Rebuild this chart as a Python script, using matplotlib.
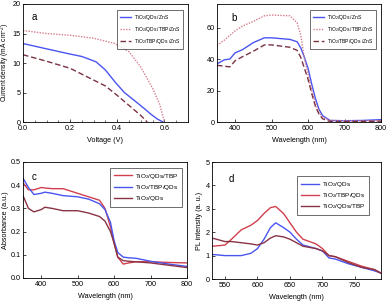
import matplotlib
matplotlib.use("Agg")
import matplotlib.pyplot as plt
from matplotlib.ticker import AutoMinorLocator
import numpy as np

plt.rcParams['font.family'] = ['Liberation Sans', 'DejaVu Sans']
plt.rcParams['mathtext.fontset'] = 'custom'
plt.rcParams['mathtext.rm'] = 'Liberation Sans'

# Panel a: J-V
va_blue = [0.0, 0.1, 0.19, 0.25, 0.31, 0.35, 0.39, 0.43, 0.48, 0.52, 0.54, 0.57, 0.594]
ja_blue = [13.3, 12.4, 11.6, 11.1, 10.2, 8.8, 6.8, 5.0, 3.4, 2.1, 1.4, 0.5, 0.0]
va_pink = [0.0, 0.1, 0.2, 0.3, 0.39, 0.45, 0.5, 0.55, 0.58, 0.60]
ja_pink = [15.5, 15.0, 14.7, 14.2, 13.3, 11.9, 9.3, 5.7, 3.0, 0.0]
va_brown = [0.0, 0.1, 0.2, 0.3, 0.35, 0.4, 0.45, 0.5, 0.527]
ja_brown = [11.4, 10.3, 9.1, 7.1, 6.1, 4.5, 2.8, 1.1, 0.0]
labels_ab = ['TiO$_2$/QDs /ZnS', 'TiO$_2$/QDs /TBP/ZnS', 'TiO$_2$/TBP/QDs /ZnS']

# Panel b: IPCE
wl_b = [350, 370, 385, 400, 420, 450, 480, 500, 550, 570, 580, 590, 600, 610, 620, 630, 640, 660, 700, 750, 800]
ipce_blue = [37, 39.5, 40, 44, 46, 50.5, 53.5, 53.5, 52.5, 51, 47, 41, 34, 24, 15, 8, 4, 1, 0.8, 1.0, 1.5]
ipce_pink = [48.7, 52, 55, 58, 61, 64, 67.5, 68, 67.5, 63, 55, 40, 30, 20, 12, 6, 3, 1, 0.8, 0.8, 0.8]
ipce_brown = [36, 35.5, 35, 39, 41.5, 45, 49, 49, 47.5, 45.5, 41, 34, 27, 18, 10, 5, 2, 0.3, 0.3, 0.4, 0.5]

# Panel c: absorbance
wl_c = [350, 365, 380, 400, 410, 430, 460, 500, 530, 560, 575, 590, 600, 610, 625, 640, 660, 700, 750, 800]
abs_red = [0.41, 0.38, 0.38, 0.39, 0.388, 0.385, 0.385, 0.365, 0.35, 0.335, 0.30, 0.22, 0.15, 0.09, 0.06, 0.065, 0.07, 0.07, 0.067, 0.065]
abs_blue = [0.43, 0.39, 0.36, 0.365, 0.37, 0.365, 0.355, 0.35, 0.34, 0.32, 0.295, 0.24, 0.16, 0.11, 0.09, 0.087, 0.085, 0.072, 0.06, 0.05]
abs_dark = [0.355, 0.30, 0.285, 0.295, 0.305, 0.30, 0.29, 0.29, 0.28, 0.265, 0.245, 0.20, 0.15, 0.09, 0.075, 0.072, 0.07, 0.065, 0.055, 0.045]
labels_c = ['TiO$_2$/QDs/TBP', 'TiO$_2$/TBP/QDs', 'TiO$_2$/QDs']

# Panel d: PL
wl_d = [530, 550, 560, 575, 590, 600, 610, 620, 628, 640, 650, 660, 670, 690, 700, 710, 720, 740, 760, 780, 790]
pl_blue = [1.05, 1.0, 1.0, 1.0, 1.1, 1.3, 1.7, 2.2, 2.4, 2.2, 2.0, 1.7, 1.45, 1.3, 1.2, 0.9, 0.85, 0.65, 0.5, 0.35, 0.25]
pl_red = [1.4, 1.45, 1.7, 2.1, 2.3, 2.5, 2.8, 3.05, 3.1, 2.8, 2.4, 2.0, 1.7, 1.5, 1.3, 1.0, 0.95, 0.75, 0.55, 0.4, 0.25]
pl_brown = [1.75, 1.6, 1.6, 1.55, 1.5, 1.45, 1.55, 1.75, 1.85, 1.8, 1.7, 1.55, 1.4, 1.3, 1.2, 1.0, 0.95, 0.7, 0.5, 0.4, 0.25]
labels_d = ['TiO$_2$/QDs', 'TiO$_2$/TBP/QDs', 'TiO$_2$/QDs/TBP']

c_blue = '#4a55f0'
c_pink = '#d67e8e'
c_brown = '#7a3343'
c_red = '#d2404e'
c_dark = '#8a3345'

W, H = 387, 302
fig = plt.figure(figsize=(W / 100, H / 100), dpi=100)

def ax_at(x0, y0, x1, y1):
    return fig.add_axes([x0 / W, 1 - y1 / H, (x1 - x0) / W, (y1 - y0) / H])

fs = 5.2

def style(ax):
    ax.tick_params(labelsize=fs, length=2, width=0.5, pad=1.5, direction='in')
    ax.tick_params(axis='x', pad=2.5)
    ax.tick_params(which='minor', length=1.2, width=0.4, direction='in')
    for s in ax.spines.values():
        s.set_linewidth(0.6)

def leg(ax, size, hl, anchor, spacing):
    lg = ax.legend(loc='upper right', fontsize=size, frameon=True, fancybox=False, edgecolor='black',
                   handlelength=hl, borderpad=0.6, labelspacing=spacing, handletextpad=0.5,
                   bbox_to_anchor=anchor, borderaxespad=0)
    lg.get_frame().set_linewidth(0.5)

# a
axa = ax_at(23, 4, 188, 122)
axa.plot(va_blue, ja_blue, color=c_blue, lw=1.0, label=labels_ab[0])
axa.plot(va_pink, ja_pink, color=c_pink, lw=1.0, ls=(0, (1, 1)), label=labels_ab[1])
axa.plot(va_brown, ja_brown, color=c_brown, lw=1.0, ls=(0, (4, 2)), label=labels_ab[2])
axa.set_xlim(0, 0.7)
axa.set_ylim(0, 20)
axa.set_xticks([0.0, 0.2, 0.4, 0.6])
axa.set_yticks([0, 5, 10, 15, 20])
axa.xaxis.set_minor_locator(AutoMinorLocator(4))
axa.set_xlabel('Voltage (V)', fontsize=fs, labelpad=3)
axa.set_ylabel('Current density (mA cm$^{-2}$)', fontsize=4.8)
axa.yaxis.set_label_coords(-0.068, 0.5)
axa.text(0.05, 0.93, 'a', transform=axa.transAxes, fontsize=7, va='top')
style(axa)
leg(axa, 3.6, 2.2, (0.97, 0.95), 0.6)

# b
axb = ax_at(217, 4, 381, 122)
axb.plot(wl_b, ipce_blue, color=c_blue, lw=1.0, label=labels_ab[0])
axb.plot(wl_b, ipce_pink, color=c_pink, lw=1.0, ls=(0, (1, 1)), label=labels_ab[1])
axb.plot(wl_b, ipce_brown, color=c_brown, lw=1.0, ls=(0, (4, 2)), label=labels_ab[2])
axb.set_xlim(350, 800)
axb.set_ylim(0, 75)
axb.set_xticks([400, 500, 600, 700, 800])
axb.set_yticks([0, 20, 40, 60])
axb.set_xlabel('Wavelength (nm)', fontsize=fs, labelpad=3)
axb.text(0.09, 0.92, 'b', transform=axb.transAxes, fontsize=7, va='top')
style(axb)
leg(axb, 3.6, 2.2, (0.97, 0.95), 0.6)

# c
axc = ax_at(23, 162, 187, 278)
axc.plot(wl_c, abs_red, color=c_red, lw=1.0, label=labels_c[0])
axc.plot(wl_c, abs_blue, color=c_blue, lw=1.0, label=labels_c[1])
axc.plot(wl_c, abs_dark, color=c_dark, lw=1.0, label=labels_c[2])
axc.set_xlim(350, 800)
axc.set_ylim(0, 0.5)
axc.set_xticks([400, 500, 600, 700, 800])
axc.set_yticks([0.0, 0.1, 0.2, 0.3, 0.4, 0.5])
axc.set_xlabel('Wavelength (nm)', fontsize=fs, labelpad=3)
axc.set_ylabel('Absorbance (a.u.)', fontsize=fs)
axc.yaxis.set_label_coords(-0.085, 0.5)
axc.text(0.05, 0.91, 'c', transform=axc.transAxes, fontsize=7, va='top')
style(axc)
leg(axc, 4.6, 2.8, (0.97, 0.95), 0.35)

# d
axd = ax_at(212, 162, 381, 279)
axd.plot(wl_d, pl_blue, color=c_blue, lw=1.0, label=labels_d[0])
axd.plot(wl_d, pl_red, color=c_red, lw=1.0, label=labels_d[1])
axd.plot(wl_d, pl_brown, color=c_dark, lw=1.0, label=labels_d[2])
axd.set_xlim(530, 790)
axd.set_ylim(0, 5)
axd.set_xticks([550, 600, 650, 700, 750])
axd.set_yticks([0, 1, 2, 3, 4, 5])
axd.set_xlabel('Wavelength (nm)', fontsize=fs, labelpad=3)
axd.set_ylabel('PL intensity (a. u.)', fontsize=fs, labelpad=2)
axd.text(0.1, 0.9, 'd', transform=axd.transAxes, fontsize=7, va='top')
style(axd)
leg(axd, 4.6, 2.8, (0.93, 0.88), 0.35)

fig.savefig('out.png', dpi=100)
